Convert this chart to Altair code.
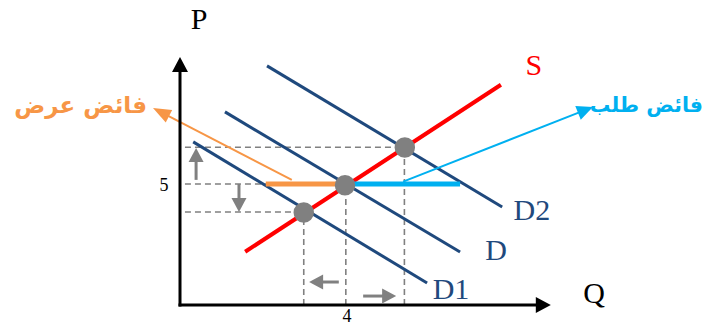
import math
import altair as alt
import pandas as pd

# ---------------- data (Q, P units) ----------------
curve_names = ["S", "D", "D1", "D2"]
curve_q_start = [1.58, 1.09, 0.32, 2.11]
curve_p_start = [2.20, 7.98, 6.74, 9.88]
curve_q_end = [7.78, 6.79, 5.99, 7.81]
curve_p_end = [9.10, 2.19, 0.91, 4.05]

eq_q = [3.0, 4.0, 5.45]
eq_p = [3.82, 4.95, 6.51]

guide_q = [0.12, 0.12, 0.12, 3.0, 4.02, 5.44]
guide_p = [6.52, 5.0, 3.84, 0.0, 0.0, 0.0]
guide_q2 = [5.44, 4.0, 3.0, 3.0, 4.02, 5.44]
guide_p2 = [6.52, 5.0, 3.84, 3.84, 5.0, 6.52]

gap_names = ["surplus", "shortage"]
gap_q = [2.08, 4.0]
gap_q2 = [4.0, 6.79]
gap_p = [5.0, 5.0]

# callout arrows: start -> tip
call_q = [2.71, 5.41]
call_p = [5.17, 5.10]
call_tq = [-0.655, 10.01]
call_tp = [8.14, 8.18]

# small grey shift arrows: start -> tip
shift_q = [0.39, 1.43, 3.85, 4.44]
shift_p = [5.17, 5.00, 0.95, 0.37]
shift_tq = [0.39, 1.43, 3.13, 5.24]
shift_tp = [6.49, 3.84, 0.95, 0.37]

# axis arrows: origin -> tip
axis_tq = [0.0, 8.99]
axis_tp = [10.25, 0.0]

label_text = ["P", "Q", "S", "D2", "D", "D1"]
label_q = [0.46, 10.04, 8.58, 8.53, 7.66, 6.57]
label_p = [11.78, 0.45, 9.88, 3.90, 2.23, 0.62]

tick_text = ["5", "4"]
tick_q = [-0.39, 4.05]
tick_p = [4.90, -0.50]

note_text = ["فائض عرض", "فائض طلب"]
note_q = [-0.80, 12.68]      # right end of each note
note_p = [7.93, 7.97]
note_fs = [23, 20.5]

# ---------------- styles / layout ----------------
RED = "#FF0000"
NAVY = "#1F497D"
GREY = "#808080"
ORANGE = "#F79646"
CYAN = "#00B0F0"

W, H = 697, 319
PXQ, PXP = 41.25, 24.2          # px per unit
X0, Y0 = 172.0, 297.0           # origin position inside plot (px)
q_dom = [-X0 / PXQ, (W - X0) / PXQ]
p_dom = [(Y0 - H) / PXP, Y0 / PXP]
xs = alt.Scale(domain=q_dom, nice=False, zero=False)
ys = alt.Scale(domain=p_dom, nice=False, zero=False)


def enc_xy(ch):
    return ch.encode(
        x=alt.X("q:Q", scale=xs, axis=None),
        y=alt.Y("p:Q", scale=ys, axis=None),
    )


def rules(df, **kw):
    return alt.Chart(df).mark_rule(**kw).encode(
        x=alt.X("q:Q", scale=xs, axis=None),
        y=alt.Y("p:Q", scale=ys, axis=None),
        x2="q2:Q",
        y2="p2:Q",
    )


def arrow_parts(sq, sp, tq, tp, L, Wd, col):
    """shaft (start -> base of head) and head (at tip)"""
    dx = (tq - sq) * PXQ
    dy = -(tp - sp) * PXP
    n = math.hypot(dx, dy)
    ux, uy = dx / n, dy / n
    back = L - 2
    bq = tq - ux * back / PXQ
    bp = tp + uy * back / PXP
    ang = math.degrees(math.atan2(ux, -uy)) % 360
    shape = f"M0,0L{-Wd/2},{L}L{Wd/2},{L}Z"
    return (dict(q=sq, p=sp, q2=bq, p2=bp),
            dict(q=tq, p=tp, ang=ang, shape=shape, col=col))


# ---------------- build tables ----------------
guides = pd.DataFrame(dict(q=guide_q, p=guide_p, q2=guide_q2, p2=guide_p2))
curves = pd.DataFrame(dict(name=curve_names, q=curve_q_start, p=curve_p_start,
                           q2=curve_q_end, p2=curve_p_end))
demand = curves[curves.name != "S"]
supply = curves[curves.name == "S"]
gaps = pd.DataFrame(dict(name=gap_names, q=gap_q, q2=gap_q2, p=gap_p, p2=gap_p))

heads = []
call_shafts = []
for i, col in enumerate([ORANGE, CYAN]):
    L, Wd = (18, 14) if i == 0 else (16, 15)
    s, h = arrow_parts(call_q[i], call_p[i], call_tq[i], call_tp[i], L, Wd, col)
    s["col"] = col
    call_shafts.append(s)
    heads.append(h)
shift_shafts = []
for i in range(len(shift_q)):
    s, h = arrow_parts(shift_q[i], shift_p[i], shift_tq[i], shift_tp[i], 14, 15, GREY)
    shift_shafts.append(s)
    heads.append(h)
axis_shafts = []
for i in range(2):
    s, h = arrow_parts(0.0, 0.0, axis_tq[i], axis_tp[i], 15, 16, "#000000")
    axis_shafts.append(s)
    heads.append(h)
# extend axis lines slightly past the corner for a clean join
axis_shafts[0]["p"] = -1.5 / PXP
axis_shafts[1]["q"] = -1.5 / PXQ

call_df = pd.DataFrame(call_shafts)
shift_df = pd.DataFrame(shift_shafts)
axis_df = pd.DataFrame(axis_shafts)
head_df = pd.DataFrame(heads)
eq_df = pd.DataFrame(dict(q=eq_q, p=eq_p))
lab_df = pd.DataFrame(dict(q=label_q, p=label_p, txt=label_text,
                           col=["#000000", "#000000", RED, NAVY, NAVY, NAVY]))
tick_df = pd.DataFrame(dict(q=tick_q, p=tick_p, txt=tick_text))
note_df = pd.DataFrame(dict(q=note_q, p=note_p, txt=note_text, col=[ORANGE, CYAN],
                            fs=note_fs))

# ---------------- layers ----------------
l_guides = rules(guides, color=GREY, strokeWidth=1.6, strokeDash=[6, 4])
l_demand = rules(demand, color=NAVY, strokeWidth=3)
l_supply = rules(supply, color=RED, strokeWidth=4)
l_gaps = rules(gaps, strokeWidth=5).encode(
    color=alt.Color("name:N", scale=alt.Scale(domain=gap_names, range=[ORANGE, CYAN]),
                    legend=None))
l_calls = rules(call_df, strokeWidth=2).encode(color=alt.Color("col:N", scale=None))
l_shift = rules(shift_df, color=GREY, strokeWidth=3)
l_axis = rules(axis_df, color="#000000", strokeWidth=3)
l_heads = enc_xy(alt.Chart(head_df).mark_point(filled=True, size=4, opacity=1,
                                               strokeWidth=0)).encode(
    shape=alt.Shape("shape:N", scale=None),
    angle=alt.Angle("ang:Q", scale=None),
    color=alt.Color("col:N", scale=None),
)
l_eq = enc_xy(alt.Chart(eq_df).mark_circle(size=420, color=GREY, opacity=1))
l_lab = enc_xy(alt.Chart(lab_df).mark_text(font="Liberation Serif", fontSize=30,
                                           align="center", baseline="middle")).encode(
    text="txt:N", color=alt.Color("col:N", scale=None))
l_tick = enc_xy(alt.Chart(tick_df).mark_text(font="Liberation Serif", fontSize=18,
                                             align="center", baseline="middle",
                                             color="#000000")).encode(text="txt:N")
l_note = enc_xy(alt.Chart(note_df).mark_text(font="DejaVu Sans",
                                             fontWeight="bold", align="right",
                                             baseline="alphabetic")).encode(
    text="txt:N", color=alt.Color("col:N", scale=None),
    size=alt.Size("fs:Q", scale=None))

chart = alt.layer(
    l_guides, l_demand, l_supply, l_gaps, l_calls, l_shift, l_axis, l_heads,
    l_eq, l_lab, l_tick, l_note,
).properties(
    width=W, height=H, autosize="none",
    padding={"left": 0, "top": 0, "right": 0, "bottom": 0},
).configure_view(stroke=None)

chart.save("out.html", embed_options={"renderer": "svg", "actions": False})
